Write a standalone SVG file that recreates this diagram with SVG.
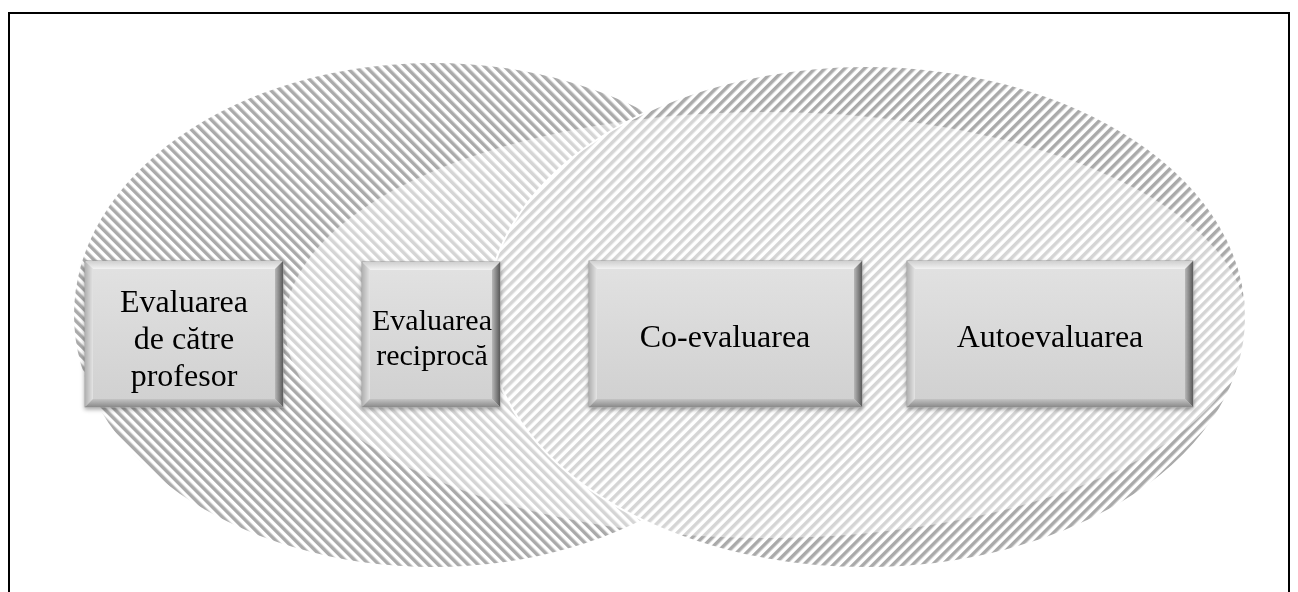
<svg xmlns="http://www.w3.org/2000/svg" width="1298" height="592" viewBox="0 0 1298 592">
  <style>
    .label { font-family: "Liberation Serif", "Times New Roman", serif; font-size: 32px; fill: #000; text-anchor: middle; }
    .label.small { font-size: 30px; }
  </style>
  <defs>
    <!-- diagonal hatch fills -->
    <pattern id="hatchBack" patternUnits="userSpaceOnUse" width="7" height="7" patternTransform="rotate(-45)">
      <rect width="7" height="7" fill="#fff"/>
      <rect width="3.5" height="7" fill="#aaa"/>
    </pattern>
    <pattern id="hatchFwd" patternUnits="userSpaceOnUse" width="7" height="7" patternTransform="rotate(45)">
      <rect width="7" height="7" fill="#fff"/>
      <rect width="3.5" height="7" fill="#aaa"/>
    </pattern>
    <!-- bevelled box shading -->
    <linearGradient id="face" x1="0" y1="0" x2="0" y2="1">
      <stop offset="0" stop-color="#e2e2e2"/>
      <stop offset="1" stop-color="#d0d0d0"/>
    </linearGradient>
    <linearGradient id="rightEdge" x1="0" y1="0" x2="1" y2="0">
      <stop offset="0" stop-color="#b8b8b8"/>
      <stop offset="1" stop-color="#5a5a5a"/>
    </linearGradient>
    <linearGradient id="bottomEdge" x1="0" y1="0" x2="0" y2="1">
      <stop offset="0" stop-color="#c4c4c4"/>
      <stop offset="1" stop-color="#8a8a8a"/>
    </linearGradient>
    <linearGradient id="topEdge" x1="0" y1="0" x2="0" y2="1">
      <stop offset="0" stop-color="#cfcfcf"/>
      <stop offset="1" stop-color="#f2f2f2"/>
    </linearGradient>
    <linearGradient id="leftEdge" x1="0" y1="0" x2="1" y2="0">
      <stop offset="0" stop-color="#b0b0b0"/>
      <stop offset="1" stop-color="#e4e4e4"/>
    </linearGradient>
    <filter id="shadow" x="-10%" y="-10%" width="120%" height="125%">
      <feDropShadow dx="0" dy="2" stdDeviation="2" flood-color="#000" flood-opacity="0.35"/>
    </filter>
  </defs>

  <!-- frame -->
  <rect x="9" y="13" width="1280" height="600" fill="#fff" stroke="#000" stroke-width="2"/>

  <!-- background ellipses -->
  <g id="backdrop">
    <ellipse cx="433" cy="315" rx="359" ry="252" fill="url(#hatchBack)"/>
    <ellipse cx="866" cy="317" rx="380" ry="251" fill="url(#hatchFwd)" stroke="#fff" stroke-width="2"/>
    <ellipse cx="766" cy="325" rx="481" ry="213" fill="#fff" fill-opacity="0.5"/>
  </g>

  <g id="node1" filter="url(#shadow)">
    <rect x="85" y="261" width="198" height="146" fill="url(#face)" stroke="#9a9a9a" stroke-width="1"/>
    <polygon points="85,261 283,261 275,269 93,269" fill="url(#topEdge)"/>
    <polygon points="85,261 93,269 93,399 85,407" fill="url(#leftEdge)"/>
    <polygon points="283,261 283,407 275,399 275,269" fill="url(#rightEdge)"/>
    <polygon points="85,407 93,399 275,399 283,407" fill="url(#bottomEdge)"/>
    <text class="label" x="184" y="312">Evaluarea</text>
    <text class="label" x="184" y="349">de către</text>
    <text class="label" x="184" y="386">profesor</text>
  </g>

  <g id="node2" filter="url(#shadow)">
    <rect x="362" y="262" width="138" height="145" fill="url(#face)" stroke="#9a9a9a" stroke-width="1"/>
    <polygon points="362,262 500,262 492,270 370,270" fill="url(#topEdge)"/>
    <polygon points="362,262 370,270 370,399 362,407" fill="url(#leftEdge)"/>
    <polygon points="500,262 500,407 492,399 492,270" fill="url(#rightEdge)"/>
    <polygon points="362,407 370,399 492,399 500,407" fill="url(#bottomEdge)"/>
    <text class="label small" x="432" y="330">Evaluarea</text>
    <text class="label small" x="432" y="365">reciprocă</text>
  </g>

  <g id="node3" filter="url(#shadow)">
    <rect x="589" y="261" width="273" height="146" fill="url(#face)" stroke="#9a9a9a" stroke-width="1"/>
    <polygon points="589,261 862,261 854,269 597,269" fill="url(#topEdge)"/>
    <polygon points="589,261 597,269 597,399 589,407" fill="url(#leftEdge)"/>
    <polygon points="862,261 862,407 854,399 854,269" fill="url(#rightEdge)"/>
    <polygon points="589,407 597,399 854,399 862,407" fill="url(#bottomEdge)"/>
    <text class="label" x="725" y="347">Co-evaluarea</text>
  </g>

  <g id="node4" filter="url(#shadow)">
    <rect x="907" y="261" width="286" height="146" fill="url(#face)" stroke="#9a9a9a" stroke-width="1"/>
    <polygon points="907,261 1193,261 1185,269 915,269" fill="url(#topEdge)"/>
    <polygon points="907,261 915,269 915,399 907,407" fill="url(#leftEdge)"/>
    <polygon points="1193,261 1193,407 1185,399 1185,269" fill="url(#rightEdge)"/>
    <polygon points="907,407 915,399 1185,399 1193,407" fill="url(#bottomEdge)"/>
    <text class="label" x="1050" y="347">Autoevaluarea</text>
  </g>

  <g id="connectors"></g>
</svg>
